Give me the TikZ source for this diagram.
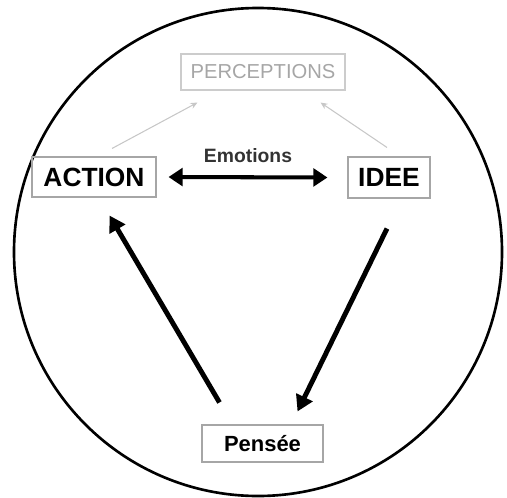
\documentclass[tikz,border=0pt]{standalone}
\usepackage{fontspec}
\setmainfont{Liberation Sans}
\usetikzlibrary{arrows.meta}

\begin{document}
\begin{tikzpicture}[x=0.02cm, y=-0.02cm,
  boxed/.style={draw=black!35, line width=0.6pt, inner sep=0pt, font=\bfseries\fontsize{15}{18}\selectfont},
  faint/.style={draw=black!20, line width=0.6pt, inner sep=0pt, text=black!35, font=\fontsize{11.5}{13}\selectfont},
  thin arrow/.style={draw=black!22, line width=0.6pt, -{Stealth[length=4pt, width=3.5pt]}},
  fat arrow/.style={line width=2.8pt, -{Triangle[length=9pt, width=10pt]}}]
\useasboundingbox (0,0) rectangle (507,497);
\draw[line width=1.5pt] (258,252) circle (244);
\node[faint, minimum width=3.28cm, minimum height=0.72cm] (perceptions) at (263,72) {PERCEPTIONS};
\node[boxed, minimum width=2.48cm, minimum height=0.8cm] (action) at (94,177) {ACTION};
\node[boxed, minimum width=1.64cm, minimum height=0.82cm] (idee) at (389,177.5) {IDEE};
\node[boxed, minimum width=2.42cm, minimum height=0.74cm, font=\bfseries\fontsize{12.5}{15}\selectfont] (pensee) at (262.5,443.5) {Pensée};
\draw[thin arrow] ([shift={(18,-8)}]action.north) -- ([shift={(17,12)}]perceptions.south west);
\draw[thin arrow] ([shift={(-2,-9)}]idee.north) -- ([shift={(-25,12)}]perceptions.south east);
\draw[line width=2.3pt, {Triangle[length=8pt, width=10pt]}-{Triangle[length=8pt, width=10pt]}] ([shift={(12,0)}]action.east) -- node[above=4pt, font=\bfseries\fontsize{11}{13}\selectfont, text=black!80] (emotions) {Emotions} ([shift={(-20,0)}]idee.west);
\draw[fat arrow] ([shift={(18,-22)}]pensee.north west) -- ([shift={(78,18)}]action.south west);
\draw[fat arrow] ([shift={(-2,30)}]idee.south) -- ([shift={(-26,-13)}]pensee.north east);
\end{tikzpicture}
\end{document}
